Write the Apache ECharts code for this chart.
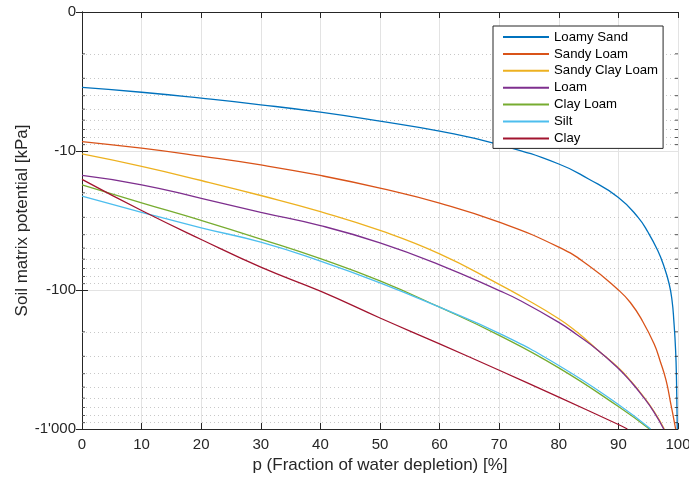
<!DOCTYPE html>
<html>
<head>
<meta charset="utf-8">
<script src="https://cdn.jsdelivr.net/npm/echarts@6/dist/echarts.min.js"></script>
<style>
  html, body { margin: 0; padding: 0; background: #fff; }
  #chart { width: 689px; height: 477px; }
</style>
</head>
<body>
<div id="chart"></div>
<script>
// Soil water retention: suction |psi| [kPa] versus depletion p [%] of plant-available water.
// Each curve is a list of [p, |psi|] pairs.
const soilNames = ['Loamy Sand', 'Sandy Loam', 'Sandy Clay Loam', 'Loam', 'Clay Loam', 'Silt', 'Clay'];
const soilColors = ['#0072BD', '#D95319', '#EDB120', '#7E2F8E', '#77AC30', '#4DBEEE', '#A2142F'];

const loamySand = [[0, 3.49], [10, 3.78], [20, 4.17], [30, 4.65], [40, 5.26], [50, 6.1], [60, 7.2],
  [70, 9.0], [80, 12.4], [85, 15.9], [90, 21.6], [93.3, 30], [95, 38.6], [96.6, 52],
  [97.6, 66.7], [98.5, 89.8], [99, 119], [99.3, 166], [99.6, 272], [99.75, 448], [99.88, 1000]];
const sandyLoam = [[0, 8.55], [10, 9.55], [20, 10.9], [30, 12.6], [40, 15.0], [50, 18.5], [60, 23.7],
  [70, 32.5], [80, 49.2], [85, 66.7], [90, 100], [92, 123], [94, 166], [96, 245], [97, 324],
  [98, 447], [98.8, 661], [99.3, 851], [99.6, 1000]];
const sandyClayLoam = [[0, 10.5], [10, 12.9], [20, 16.3], [30, 20.9], [40, 27.3], [50, 37.3], [60, 55],
  [70, 91], [73.5, 110], [80, 161], [83, 200], [86.6, 272], [90, 363], [92, 447], [94, 569],
  [96, 750], [97.7, 1000]];
const loam = [[0, 15.0], [10, 17.5], [20, 21.9], [30, 27.6], [40, 34.4], [50, 45.8], [60, 65.9],
  [70, 101], [73.5, 119], [80, 171], [83, 209], [86.6, 272], [90, 367], [92, 452], [94, 575],
  [96, 759], [97.6, 1000]];
const clayLoam = [[0, 17.5], [10, 23.6], [20, 31.6], [30, 43], [40, 59.5], [50, 86], [60, 133],
  [70, 212], [80, 363], [90, 689], [95.2, 1000]];
const silt = [[0, 21.1], [10, 27.6], [20, 35.7], [30, 45.3], [40, 62], [50, 88.8], [60, 133],
  [70, 205], [80, 349], [90, 666], [95.4, 1000]];
const clay = [[0, 16.0], [10, 26.8], [20, 43.3], [30, 68.5], [40, 102], [50, 159], [60, 244],
  [70, 378], [80, 590], [90, 928], [91.5, 1000]];

const soilCurves = [loamySand, sandyLoam, sandyClayLoam, loam, clayLoam, silt, clay];

// Axis ticks
const pTicks = [0, 10, 20, 30, 40, 50, 60, 70, 80, 90, 100];
const psiMajorTicks = [1, 10, 100, 1000];
const psiMinorTicks = [2, 3, 4, 5, 6, 7, 8, 9, 20, 30, 40, 50, 60, 70, 80, 90,
  200, 300, 400, 500, 600, 700, 800, 900];

const FONT = "'Liberation Sans', Arial, Helvetica, sans-serif";
const INK = '#262626';

function psiLabel(v) {
  if (v === 1) return '0';
  return '-' + String(v).replace(/\B(?=(\d{3})+(?!\d))/g, "'");
}

const chart = echarts.init(document.getElementById('chart'), null, { renderer: 'canvas' });

const psiAxisBase = {
  type: 'log',
  logBase: 10,
  min: psiMajorTicks[0],
  max: psiMajorTicks[psiMajorTicks.length - 1],
  inverse: true
};

const curveSeries = soilNames.map((name, i) => ({
  name: name,
  type: 'line',
  data: soilCurves[i],
  xAxisIndex: 0,
  yAxisIndex: 0,
  showSymbol: false,
  symbol: 'none',
  smooth: 0.5,
  clip: true,
  z: 3,
  lineStyle: { color: soilColors[i], width: 1.3, type: 'solid' },
  itemStyle: { color: soilColors[i] },
  emphasis: { disabled: true }
}));

const option = {
  animation: false,
  backgroundColor: '#ffffff',
  textStyle: { fontFamily: FONT },
  grid: { left: 82, top: 12, right: 11, bottom: 48, containLabel: false, outerBoundsMode: 'none' },
  legend: {
    data: soilNames,
    orient: 'vertical',
    left: 493,
    top: 26,
    z: 10,
    backgroundColor: '#ffffff',
    borderColor: INK,
    borderWidth: 1,
    borderRadius: 0,
    padding: [4, 5, 3, 9],
    itemWidth: 46,
    itemHeight: 14,
    itemGap: 2.9,
    itemStyle: { opacity: 0 },
    lineStyle: { width: 2, type: 'solid' },
    textStyle: { fontFamily: FONT, fontSize: 13.2, color: '#000', lineHeight: 14 },
    selectedMode: false
  },
  xAxis: [
    {
      type: 'value',
      min: pTicks[0],
      max: pTicks[pTicks.length - 1],
      interval: 10,
      position: 'bottom',
      name: 'p (Fraction of water depletion) [%]',
      nameLocation: 'middle',
      nameGap: 28,
      nameMoveOverlap: false,
      nameTextStyle: { fontFamily: FONT, fontSize: 17, color: INK },
      axisLine: { show: true, lineStyle: { color: INK, width: 1 } },
      axisTick: { show: true, inside: true, length: 6, lineStyle: { color: INK } },
      axisLabel: { show: true, margin: 8, fontFamily: FONT, fontSize: 15, color: INK },
      splitLine: { show: true, lineStyle: { color: '#e3e3e3', width: 1 } }
    },
    {
      type: 'value',
      min: pTicks[0],
      max: pTicks[pTicks.length - 1],
      interval: 10,
      position: 'top',
      axisLine: { show: true, lineStyle: { color: INK, width: 1 } },
      axisTick: { show: true, inside: true, length: 6, lineStyle: { color: INK } },
      axisLabel: { show: false },
      splitLine: { show: false }
    }
  ],
  yAxis: [
    Object.assign({}, psiAxisBase, {
      position: 'left',
      name: 'Soil matrix potential [kPa]',
      nameLocation: 'middle',
      nameGap: 51,
      nameMoveOverlap: false,
      nameRotate: 90,
      nameTextStyle: { fontFamily: FONT, fontSize: 17, color: INK },
      axisLine: { show: true, lineStyle: { color: INK, width: 1 } },
      axisTick: { show: true, inside: true, length: 6, lineStyle: { color: INK } },
      axisLabel: { show: true, margin: 6, fontFamily: FONT, fontSize: 15, color: INK, formatter: psiLabel },
      splitLine: { show: true, lineStyle: { color: '#e3e3e3', width: 1 } }
    }),
    Object.assign({}, psiAxisBase, {
      position: 'right',
      axisLine: { show: true, lineStyle: { color: INK, width: 1 } },
      axisTick: { show: true, inside: true, length: 6, lineStyle: { color: INK } },
      axisLabel: { show: false },
      splitLine: { show: false }
    })
  ],
  series: [
    // dotted minor grid at 2..9 of each decade, kept beneath curves and legend
    {
      name: 'minorGrid',
      type: 'line',
      data: [],
      xAxisIndex: 0,
      yAxisIndex: 0,
      silent: true,
      z: 1,
      markLine: {
        silent: true,
        z: 1,
        symbol: ['none', 'none'],
        label: { show: false },
        emphasis: { disabled: true },
        lineStyle: { type: [1, 3], color: '#c8c8c8', width: 1 },
        data: psiMinorTicks.map(v => ({ yAxis: v }))
      }
    },
    // minor tick marks on the left and right box edges
    {
      name: 'minorTicksLeft',
      type: 'scatter',
      data: psiMinorTicks.map(v => [pTicks[0], v]),
      xAxisIndex: 0,
      yAxisIndex: 0,
      symbol: 'rect',
      symbolSize: [3, 1],
      symbolOffset: [1.5, 0],
      itemStyle: { color: INK },
      silent: true,
      clip: false,
      z: 4
    },
    {
      name: 'minorTicksRight',
      type: 'scatter',
      data: psiMinorTicks.map(v => [pTicks[pTicks.length - 1], v]),
      xAxisIndex: 0,
      yAxisIndex: 0,
      symbol: 'rect',
      symbolSize: [3, 1],
      symbolOffset: [-1.5, 0],
      itemStyle: { color: INK },
      silent: true,
      clip: false,
      z: 4
    }
  ].concat(curveSeries)
};

chart.setOption(option);
</script>
</body>
</html>
